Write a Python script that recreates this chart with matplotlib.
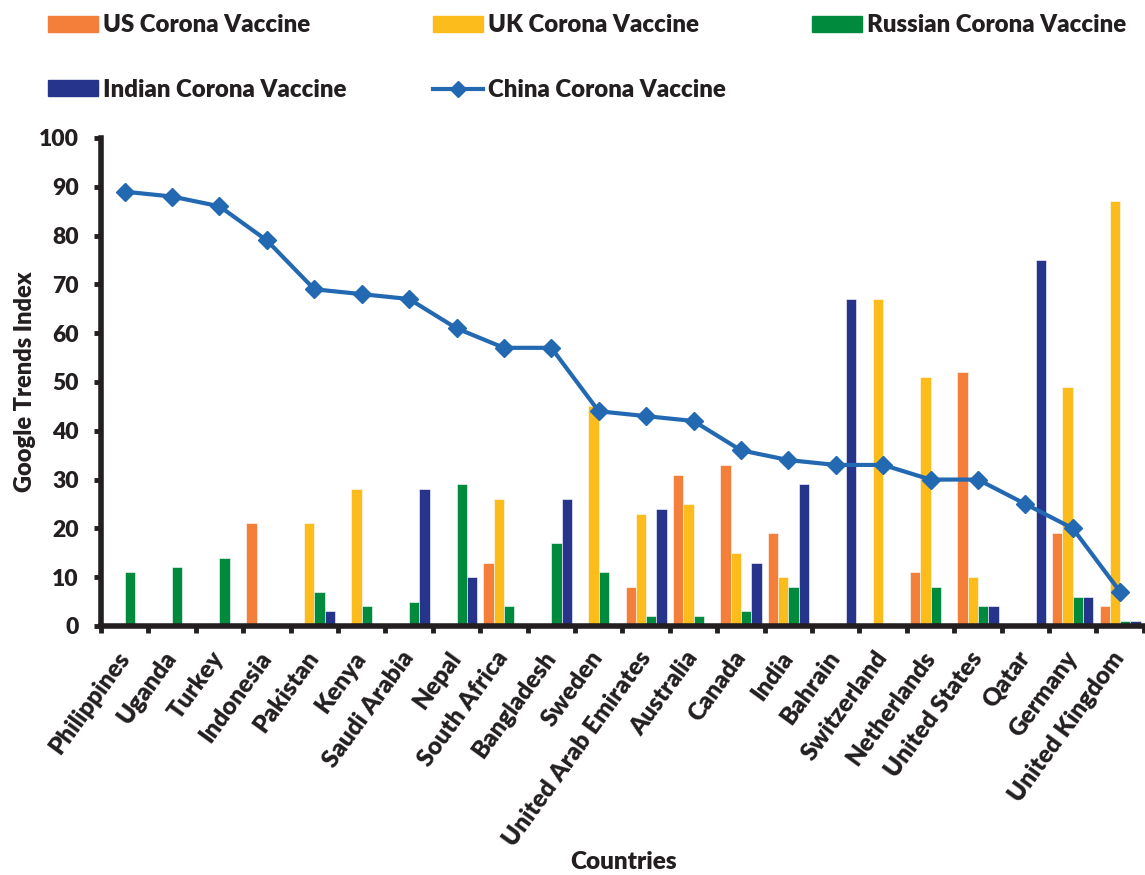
import matplotlib
matplotlib.use("Agg")
import matplotlib.pyplot as plt
import numpy as np
from matplotlib.patches import Patch
from matplotlib.lines import Line2D

countries = ["Philippines", "Uganda", "Turkey", "Indonesia", "Pakistan", "Kenya",
             "Saudi Arabia", "Nepal", "South Africa", "Bangladesh", "Sweden",
             "United Arab Emirates", "Australia", "Canada", "India", "Bahrain",
             "Switzerland", "Netherlands", "United States", "Qatar", "Germany",
             "United Kingdom"]
us_vals = [0, 0, 0, 21, 0, 0, 0, 0, 13, 0, 0, 8, 31, 33, 19, 0, 0, 11, 52, 0, 19, 4]
uk_vals = [0, 0, 0, 0, 21, 28, 0, 0, 26, 0, 45, 23, 25, 15, 10, 0, 67, 51, 10, 0, 49, 87]
ru_vals = [11, 12, 14, 0, 7, 4, 5, 29, 4, 17, 11, 2, 2, 3, 8, 0, 0, 8, 4, 0, 6, 1]
in_vals = [0, 0, 0, 0, 3, 0, 28, 10, 0, 26, 0, 24, 0, 13, 29, 67, 0, 0, 4, 75, 6, 1]
cn_vals = [89, 88, 86, 79, 69, 68, 67, 61, 57, 57, 44, 43, 42, 36, 34, 33, 33, 30, 30, 25, 20, 7]
yticks = list(range(0, 101, 10))

plt.rcParams['font.family'] = ['Lato', 'DejaVu Sans']
plt.rcParams['font.weight'] = 'heavy'
plt.rcParams['axes.labelweight'] = 'heavy'

c_us = '#F47F3B'
c_uk = '#FBBC1C'
c_ru = '#008A3E'
c_in = '#27348B'
c_cn = '#2269B2'
c_ax = '#231F20'

fig = plt.figure(figsize=(11.45, 8.75), dpi=100)
ax = fig.add_axes([0.0882, 0.2846, 0.9108, 0.5577])

x = np.arange(len(countries))
w = 0.217
series = [(us_vals, c_us), (uk_vals, c_uk), (ru_vals, c_ru), (in_vals, c_in)]
for i, (vals, col) in enumerate(series):
    ax.bar(x + (i - 1.5) * w, vals, width=w, color=col, edgecolor='white', linewidth=0.4, zorder=2)

ax.plot(x, cn_vals, color=c_cn, lw=3, marker='D', markersize=9.5, zorder=3)

ax.set_xlim(-0.5, len(countries) - 0.5)
ax.set_ylim(0, 100)
ax.set_yticks(yticks)
ax.tick_params(axis='y', labelsize=16.5, length=5, width=3.5, direction='out', pad=11,
               color=c_ax, labelcolor=c_ax)
ax.set_xticks(x)
ax.set_xticklabels(countries, rotation=54, ha='right', va='center', rotation_mode='anchor',
                   fontsize=17.5, color=c_ax)
ax.tick_params(axis='x', length=0, pad=20)
ax.set_xticks(np.arange(-0.5, len(countries), 1), minor=True)
ax.tick_params(axis='x', which='minor', length=5, width=3.5, direction='out', color=c_ax)

for s in ['top', 'right']:
    ax.spines[s].set_visible(False)
ax.spines['left'].set_linewidth(4)
ax.spines['bottom'].set_linewidth(4)
ax.spines['left'].set_color(c_ax)
ax.spines['bottom'].set_color(c_ax)

ax.set_ylabel('Google Trends Index', fontsize=17, fontweight='heavy', color=c_ax)
ax.yaxis.set_label_coords(-0.062, 0.5)
fig.text(0.545, 0.0149, 'Countries', fontsize=17.5, fontweight='heavy', ha='center',
         va='center', color=c_ax)

handles = [Patch(color=c_us), Patch(color=c_in), Patch(color=c_uk),
           Line2D([], [], color=c_cn, lw=3, marker='D', markersize=8), Patch(color=c_ru)]
labels = ["US Corona Vaccine", "Indian Corona Vaccine", "UK Corona Vaccine",
          "China Corona Vaccine", "Russian Corona Vaccine"]
leg = fig.legend(handles, labels, ncol=3, loc='upper left', bbox_to_anchor=(0.0419, 0.984),
                 frameon=False, fontsize=17.3, handlelength=2.08, handleheight=0.65,
                 handletextpad=0.2, columnspacing=3.6, labelspacing=1.78,
                 borderpad=0, borderaxespad=0)
for t in leg.get_texts():
    t.set_color(c_ax)

fig.savefig('out.png', dpi=100)
